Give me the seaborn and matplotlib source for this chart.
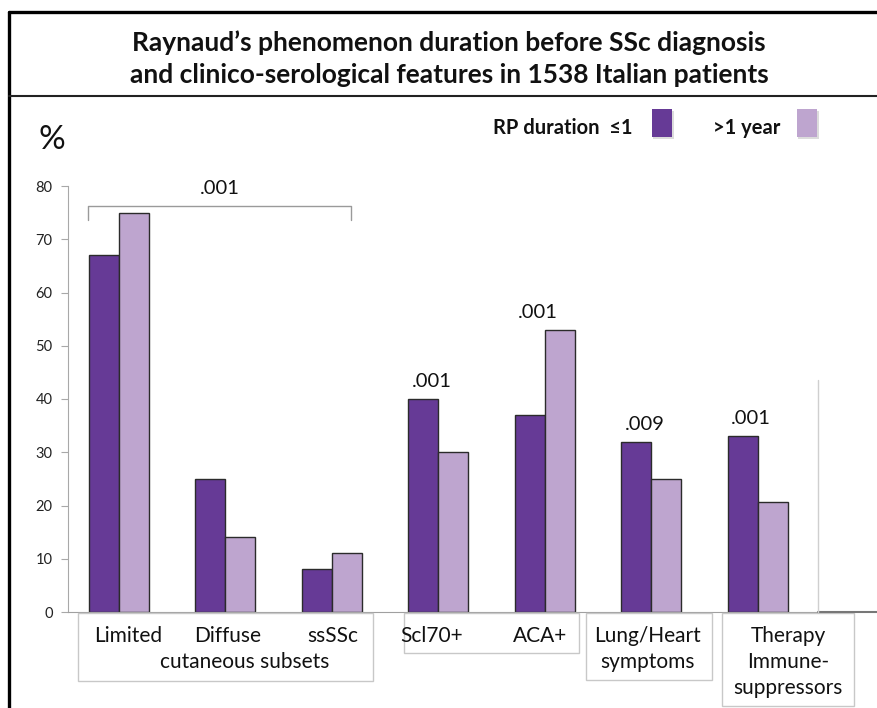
import numpy as np
import pandas as pd
import matplotlib.pyplot as plt
import matplotlib.patches as mpatches
from matplotlib.lines import Line2D
import seaborn as sns

# data
groups = ['Limited', 'Diffuse', 'ssSSc', 'Scl70+', 'ACA+', 'Lung/Heart', 'Therapy']
short_rp = [67, 25, 8, 40, 37, 32, 33]      # RP duration <=1 year
long_rp = [75, 14, 11, 30, 53, 25, 20.7]    # RP duration >1 year
series_names = ['\u22641', '>1 year']
pvals = ['.001', '.001', '.009', '.001']
pval_groups = ['Scl70+', 'ACA+', 'Lung/Heart', 'Therapy']
bracket_pval = '.001'
yticks = [0, 10, 20, 30, 40, 50, 60, 70, 80]

dark = '#663a96'
light = '#bea5cf'

df = pd.DataFrame({
    'group': groups * 2,
    'duration': [series_names[0]] * len(groups) + [series_names[1]] * len(groups),
    'value': short_rp + long_rp,
})

sns.set_style('white')
plt.rcParams['font.family'] = ['Lato', 'DejaVu Sans']

W, H = 877, 708
fig = plt.figure(figsize=(W / 100, H / 100), dpi=100)


def fx(x):
    return x / W


def fy(y):
    return 1 - y / H


# axes box in pixel terms of the slide
ax = fig.add_axes([fx(68), fy(612), fx(818) - fx(68), fy(186) - fy(612)])
sns.barplot(data=df, x='group', y='value', hue='duration', order=groups,
            hue_order=series_names, palette=[dark, light], saturation=1,
            width=0.563, gap=0, edgecolor='#2b2b2b', linewidth=1,
            legend=False, ax=ax)

ax.set_xlim(-0.475, 6.567)
ax.set_ylim(0, 80)
ax.set_yticks(yticks)
ax.set_xticks([])
ax.set_xlabel('')
ax.set_ylabel('')
for s in ['top', 'right']:
    ax.spines[s].set_visible(False)
ax.spines['left'].set_color('#a8a8a8')
ax.spines['bottom'].set_color('#a0a0a0')
ax.tick_params(axis='y', length=5, color='#a8a8a8', labelsize=10.5,
               labelcolor='#222222', pad=6, left=True)

# p-values over the bars
for g, p in zip(pval_groups, pvals):
    i = groups.index(g)
    top = max(short_rp[i], long_rp[i] if g == 'ACA+' else short_rp[i])
    ax.text(i - 0.06, top + 3.3, p, ha='center', va='center', fontsize=14.5,
            color='#111111', clip_on=False)

# bracket over cutaneous subsets
ax.plot([-0.29, -0.29, 2.18, 2.18], [73.6, 76.2, 76.2, 73.6],
        color='#9a9a9a', lw=1, clip_on=False)
ax.text(0.95, 79.6, bracket_pval, ha='center', va='center', fontsize=14.5,
        color='#111111', clip_on=False)

# slide frame and header
fig.add_artist(Line2D([fx(9), fx(9)], [fy(12), fy(708)], color='black', lw=2.4))
fig.add_artist(Line2D([fx(9), fx(877)], [fy(12), fy(12)], color='black', lw=2.4))
fig.add_artist(Line2D([fx(9), fx(877)], [fy(96), fy(96)], color='#222222', lw=1.5))
title_kw = dict(ha='center', va='center', fontsize=19, fontweight='bold', color='#111111')
fig.text(fx(449), fy(43), "Raynaud\u2019s phenomenon duration before SSc diagnosis", **title_kw)
fig.text(fx(449), fy(75), "and clinico-serological features in 1538 Italian patients", **title_kw)

# '%' label
fig.text(fx(52), fy(140), '%', ha='center', va='center', fontsize=24, color='#111111')

# legend
fig.text(fx(493), fy(128), 'RP duration  ' + series_names[0], ha='left', va='center',
         fontsize=14.5, fontweight='bold', color='#111111')
fig.text(fx(713), fy(128), series_names[1], ha='left', va='center',
         fontsize=14.5, fontweight='bold', color='#111111')
for x0, c in [(652, dark), (797, light)]:
    fig.add_artist(mpatches.Rectangle((fx(x0 + 1), fy(139)), fx(21), fy(111) - fy(139),
                                      facecolor='#dcdcdc', edgecolor='none'))
    fig.add_artist(mpatches.Rectangle((fx(x0), fy(137)), fx(20), fy(109) - fy(137),
                                      facecolor=c, edgecolor='none'))

# right edge artefact of the slide
fig.add_artist(Line2D([fx(818), fx(877)], [fy(612), fy(612)], color='#777777', lw=1.5))
fig.add_artist(Line2D([fx(818), fx(818)], [fy(380), fy(612)], color='#cfcfcf', lw=1))

# category label boxes under the axis
boxes = [(78, 373, 681), (404, 579, 653), (586, 712, 680), (722, 854, 706)]
for x0, x1, y1 in boxes:
    fig.add_artist(mpatches.Rectangle((fx(x0), fy(y1)), fx(x1) - fx(x0), fy(613) - fy(y1),
                                      facecolor='white', edgecolor='#c8c8c8', lw=1))

lab_kw = dict(ha='center', va='center', fontsize=15, color='#111111')
fig.text(fx(128), fy(636), groups[0], **lab_kw)
fig.text(fx(228), fy(636), groups[1], **lab_kw)
fig.text(fx(333), fy(636), groups[2], **lab_kw)
fig.text(fx(245), fy(662), 'cutaneous subsets', **lab_kw)
fig.text(fx(432), fy(636), groups[3], **lab_kw)
fig.text(fx(540), fy(636), groups[4], **lab_kw)
fig.text(fx(648), fy(636), groups[5], **lab_kw)
fig.text(fx(648), fy(662), 'symptoms', **lab_kw)
fig.text(fx(788), fy(636), groups[6], **lab_kw)
fig.text(fx(788), fy(662), 'Immune-', **lab_kw)
fig.text(fx(788), fy(688), 'suppressors', **lab_kw)

fig.savefig('out.png', dpi=100)
